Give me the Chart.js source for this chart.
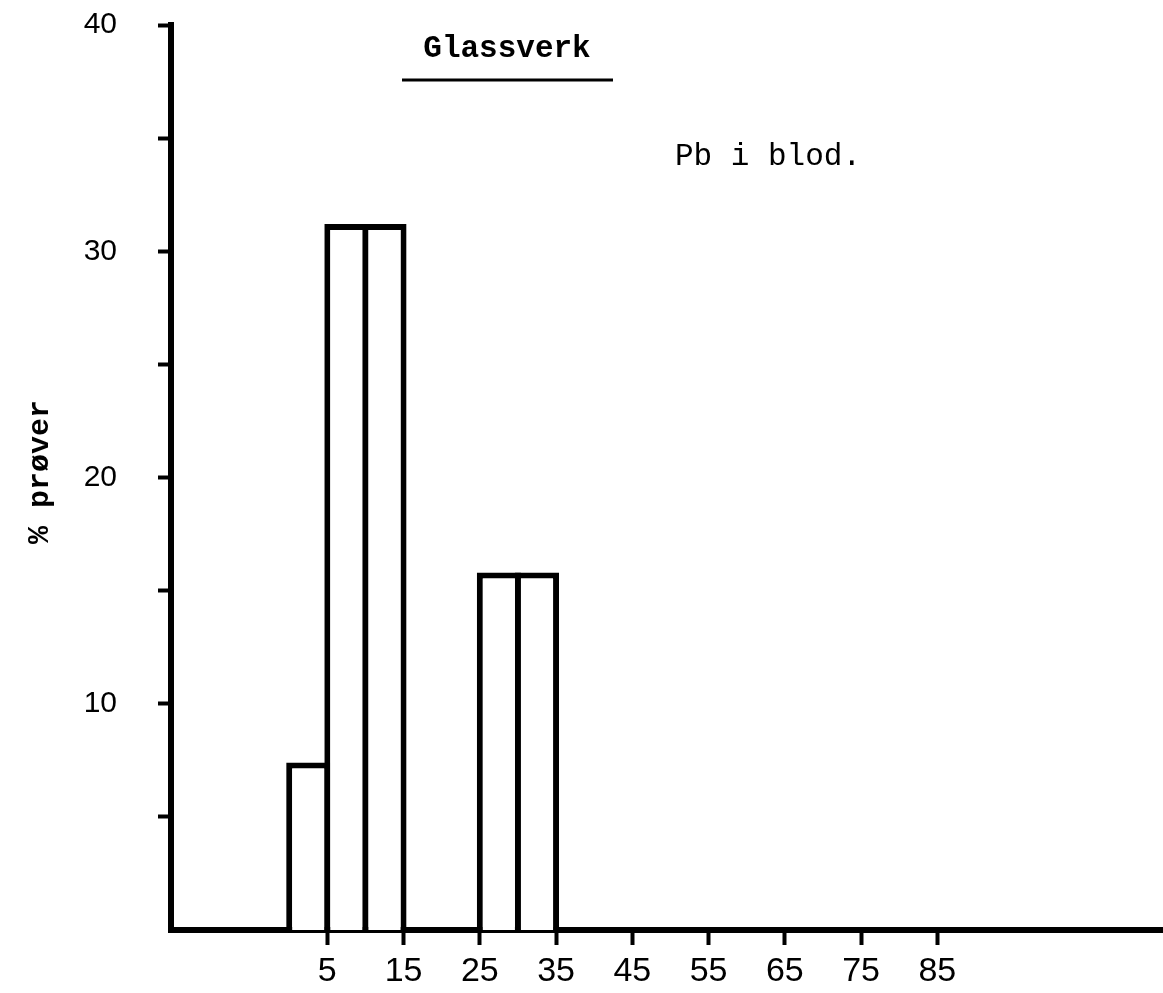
<!DOCTYPE html>
<html>
<head>
<meta charset="utf-8">
<script src="https://cdn.jsdelivr.net/npm/chart.js@4.4.1/dist/chart.umd.min.js"></script>
<style>
  html, body { margin: 0; padding: 0; background: #fff; }
  #wrap { width: 1163px; height: 993px; position: relative; }
</style>
</head>
<body>
<div id="wrap"><canvas id="pbChart"></canvas></div>
<script>
// Data
const binMid = [2.5, 7.5, 12.5, 27.5, 32.5]; // midpoints of 5-wide bins
const pctSamples = [7.4, 31.2, 31.2, 15.8, 15.8];
const xTickValues = [5, 15, 25, 35, 45, 55, 65, 75, 85];
const yTickValues = [5, 10, 15, 20, 25, 30, 35, 40];

const barData = binMid.map((x, i) => ({ x: x, y: pctSamples[i] }));

// text drawn on the page (title, note, y label)
const textPlugin = {
  id: "scanText",
  afterDraw(chart) {
    const ctx = chart.ctx;
    ctx.save();
    ctx.fillStyle = "#000";
    ctx.strokeStyle = "#000";

    // Glassverk + underline
    ctx.font = "bold 31px 'Liberation Mono'";
    ctx.textAlign = "center";
    ctx.textBaseline = "middle";
    ctx.fillText("Glassverk", 507, 49);
    ctx.lineWidth = 3;
    ctx.beginPath();
    ctx.moveTo(402, 80);
    ctx.lineTo(613, 80);
    ctx.stroke();

    // Pb i blod.
    ctx.font = "31px 'Liberation Mono'";
    ctx.textAlign = "left";
    ctx.fillText("Pb i blod.", 675, 157);

    // y label
    ctx.translate(40, 472);
    ctx.rotate(-Math.PI / 2);
    ctx.font = "bold 30px 'Liberation Mono'";
    ctx.textAlign = "center";
    ctx.fillText("% prøver", 0, 0);
    ctx.restore();
  },
};

const pbConfig = {
  type: "bar",
  data: {
    datasets: [
      {
        label: "% prøver",
        data: barData,
        backgroundColor: "#fff",
        borderColor: "#000",
        borderWidth: 6,
        borderSkipped: "start",
        categoryPercentage: 1,
        barPercentage: 1.157, // overlap by one border so shared edges stay single
      },
    ],
  },
  options: {
    responsive: true,
    maintainAspectRatio: false,
    animation: false,
    events: [],
    layout: { padding: { top: 25, left: 0, right: 0, bottom: 0 } },
    plugins: {
      legend: { display: false },
      tooltip: { enabled: false },
    },
    scales: {
      x: {
        type: "linear",
        min: -15.5,
        max: 114.6,
        offset: false,
        z: 1,
        afterBuildTicks: (s) => {
          s.ticks = xTickValues.map((v) => ({ value: v }));
        },
        afterFit: (s) => {
          s.height = 63;
          s.paddingLeft = 0;
          s.paddingRight = 0;
        },
        border: { display: true, color: "#000", width: 6 },
        grid: { offset: false, drawOnChartArea: false, drawTicks: true, tickLength: 15, tickWidth: 4, color: "#000" },
        ticks: {
          color: "#000",
          padding: 6,
          maxRotation: 0,
          autoSkip: false,
          font: { family: "'Liberation Sans'", size: 34 },
        },
      },
      y: {
        min: 0,
        max: 40,
        z: 1,
        afterBuildTicks: (s) => {
          s.ticks = yTickValues.map((v) => ({ value: v }));
        },
        afterFit: (s) => {
          s.width = 171;
          s.paddingTop = 0;
          s.paddingBottom = 0;
        },
        border: { display: true, color: "#000", width: 6 },
        grid: { drawOnChartArea: false, drawTicks: true, tickLength: 13, tickWidth: 4, color: "#000" },
        ticks: {
          color: "#000",
          padding: 41,
          autoSkip: false,
          font: { family: "'Liberation Sans'", size: 30 },
          callback: (v) => (v % 10 === 0 ? v : ""),
        },
      },
    },
  },
  plugins: [textPlugin],
};

const pbChart = new Chart(document.getElementById("pbChart"), pbConfig);
</script>
</body>
</html>
